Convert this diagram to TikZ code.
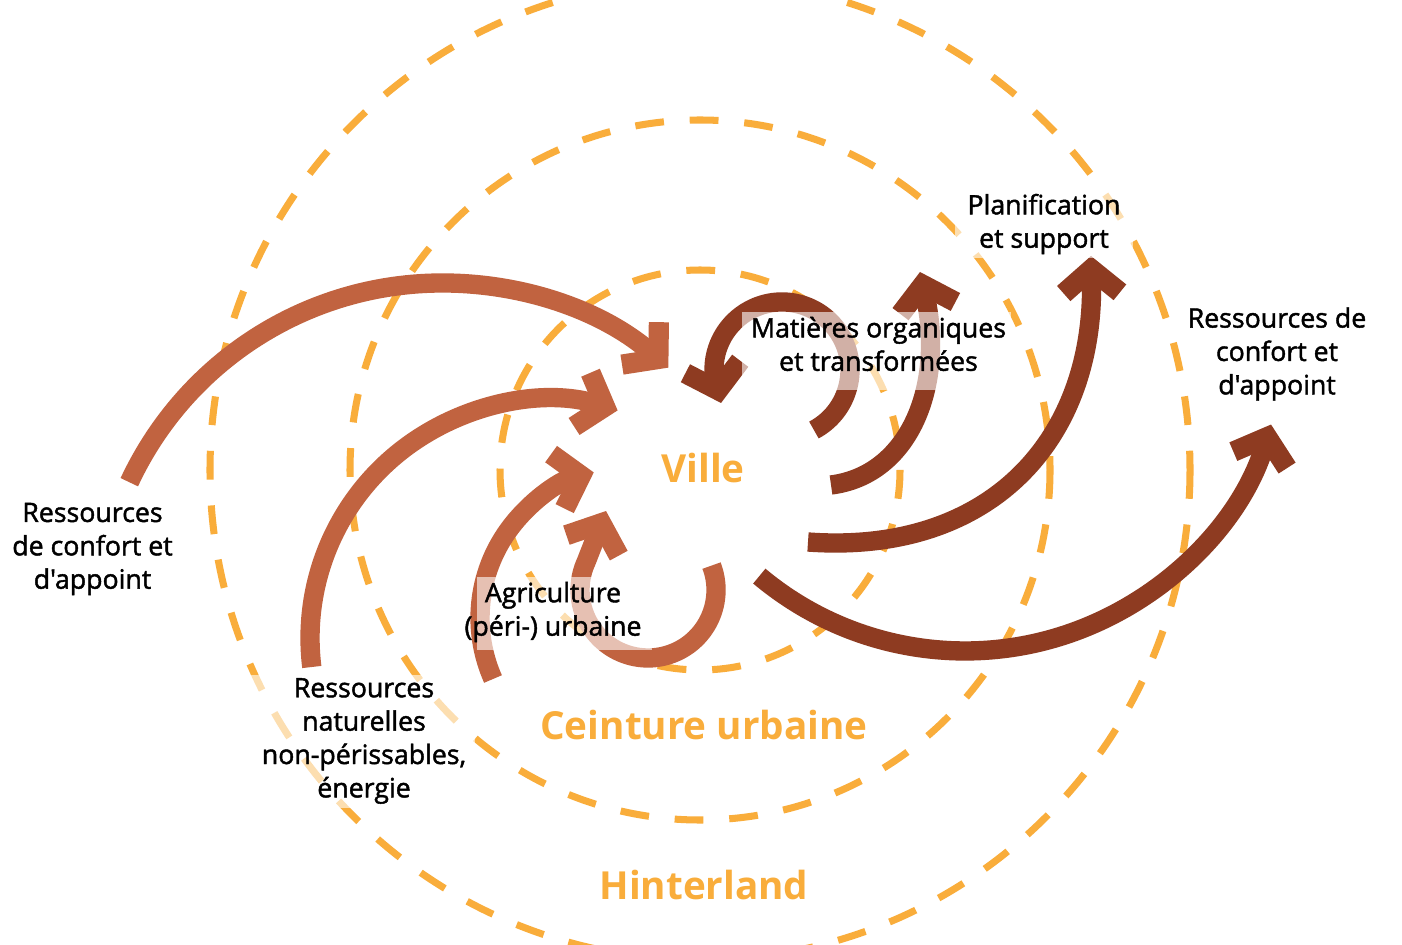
\documentclass[tikz,border=0pt]{standalone}
\usepackage{fontspec}
\setmainfont{Open Sans}
\newfontfamily\labfont{Open Sans}[FakeBold=1.6]
\usetikzlibrary{arrows.meta}
\definecolor{dashorange}{HTML}{F9AD3B}
\definecolor{inbrown}{HTML}{C16340}
\definecolor{outbrown}{HTML}{8E3B21}
\begin{document}
\begin{tikzpicture}[x=0.02cm,y=-0.02cm,
  zone/.style={draw=dashorange, line width=4pt, dash pattern=on 16.4pt off 14.7pt},
  flow/.style={line width=11pt, -{Straight Barb[length=13.5pt,width=32pt,line width=11.5pt,sharp]}},
  inflow/.style={flow, draw=inbrown},
  outflow/.style={flow, draw=outbrown},
  veil/.style={fill=white, opacity=0.6},
  lab/.style={align=center, inner sep=0pt, font=\labfont\fontsize{15.2}{19}\selectfont},
  zonetitle/.style={text=dashorange, font=\bfseries\fontsize{22}{26}\selectfont}
]
\useasboundingbox (0,0) rectangle (1402,945);
\fill[white] (0,0) rectangle (1402,945);
\coordinate (c) at (700,470);
\draw[zone] (c) circle[radius=200];
\draw[zone] (c) circle[radius=350];
\draw[zone] (c) circle[radius=490];

% inbound flows
\coordinate (a1s) at (129.3,482.2);
\coordinate (a2s) at (311.8,667);
\coordinate (a3s) at (493,679);
\coordinate (a4s) at (711.5,565.6);
\coordinate (a4t) at (606,511);
\draw[inflow] (a1s) arc[start angle=205, end angle=311, radius=345];
\draw[inflow] (a2s) arc[start angle=173, end angle=287, radius=238];
\draw[inflow] (a3s) arc[start angle=156, end angle=256, radius=150];
\draw[inflow] (a4s) arc[start angle=-21, end angle=205, radius=68] -- (a4t);

% outbound flows
\coordinate (b1s) at (813.9,430);
\coordinate (b1t) at (721,403);
\coordinate (b2s) at (831,485);
\coordinate (b2t) at (920,272);
\coordinate (b3s) at (808,542);
\coordinate (b3t) at (1091,256);
\coordinate (b4s) at (759.3,576.1);
\draw[outflow] (b1s) arc[start angle=62, end angle=-182, radius=68] -- (b1t);
\draw[outflow] (b2s) .. controls (910,475) and (945,385) .. (b2t);
\draw[outflow] (b3s) .. controls (990,555) and (1095,440) .. (b3t);
\draw[outflow] (b4s) arc[start angle=130, end angle=17, radius=320];

% translucent label backgrounds
\fill[veil] (250,675) rectangle (475,808);
\fill[veil] (477,577) rectangle (652,650);
\fill[veil] (742,312) rectangle (1011,390);
\fill[veil] (955,188) rectangle (1133,258);

% labels
\node[lab] (resL) at (92.5,549) {Ressources\\de confort et\\d'appoint};
\node[lab] (resN) at (364,741) {Ressources\\naturelles\\non-périssables,\\énergie};
\node[lab] (agri) at (553,612) {Agriculture\\(péri-) urbaine};
\node[lab] (mat) at (878.5,344) {Matières organiques\\et transformées};
\node[lab] (plan) at (1044,224) {Planification\\et support};
\node[lab] (resR) at (1277,354) {Ressources de\\confort et\\d'appoint};

% zone titles
\node[zonetitle] (ville) at (703,468) {Ville};
\node[zonetitle] (ceinture) at (704,725) {Ceinture urbaine};
\node[zonetitle] (hinter) at (704,885) {Hinterland};
\end{tikzpicture}
\end{document}
